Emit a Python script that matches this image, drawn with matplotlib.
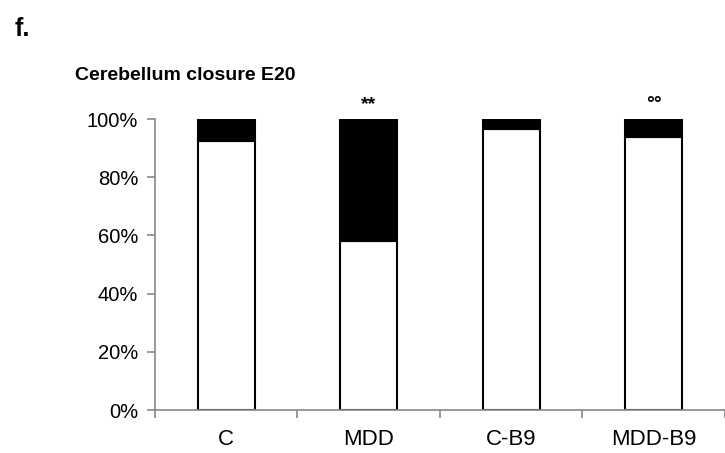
import matplotlib
matplotlib.use('Agg')
import matplotlib.pyplot as plt
import numpy as np

plt.rcParams['font.family'] = ['Liberation Sans', 'DejaVu Sans']

groups = ['C', 'MDD', 'C-B9', 'MDD-B9']
closed = [92.5, 58.0, 96.5, 93.8]        # white part (%)
open_ = [100 - v for v in closed]       # black part (%)
marks = ['', '**', '', '°°']

fig = plt.figure(figsize=(7.25, 4.53), dpi=100)
ax = fig.add_axes([0.2138, 0.0949, 0.786, 0.6424])

x = np.arange(len(groups))
w = 0.4
ax.bar(x, closed, w, color='white', edgecolor='black', lw=1.5)
ax.bar(x, open_, w, bottom=closed, color='black', edgecolor='black', lw=1.5)

for i, m in enumerate(marks):
    if m:
        ax.text(x[i], 102.0, m, ha='center', va='bottom', fontsize=14,
                fontweight='bold')

ax.set_xlim(-0.5, len(groups) - 0.5)
ax.set_ylim(0, 100)
ax.set_yticks(np.arange(0, 101, 20))
ax.set_yticklabels([f'{v}%' for v in range(0, 101, 20)], fontsize=14.5)
ax.set_xticks(x)
ax.set_xticklabels(groups, fontsize=16)
ax.set_xticks(np.arange(-0.5, len(groups), 1), minor=True)
ax.tick_params(axis='x', which='major', length=0, pad=14)
ax.tick_params(axis='x', which='minor', length=6, color='#888888', width=1.2)
ax.tick_params(axis='y', length=6, color='#888888', width=1.2, pad=6)

for s in ['top', 'right']:
    ax.spines[s].set_visible(False)
for s in ['left', 'bottom']:
    ax.spines[s].set_color('#888888')
    ax.spines[s].set_linewidth(1.2)

fig.text(0.103, 0.833, 'Cerebellum closure E20', fontsize=14, fontweight='bold', ha='left', va='center')
fig.text(0.02, 0.935, 'f.', fontsize=18, fontweight='bold', ha='left', va='center')

fig.savefig('out.png', dpi=100)
